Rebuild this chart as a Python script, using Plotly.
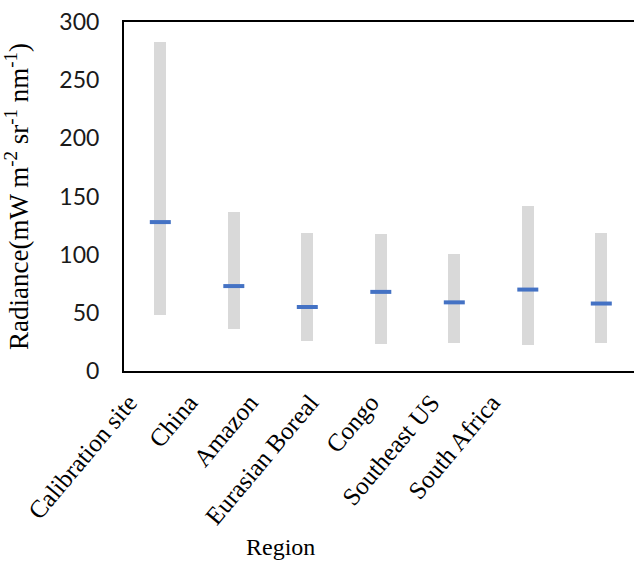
import plotly.graph_objects as go

# Radiance range (min/max) and central value per region
regions = ["Calibration site", "China", "Amazon", "Eurasian Boreal",
           "Congo", "Southeast US", "South Africa"]
rad_min = [48, 36, 26, 23, 24, 22, 24]
rad_max = [283, 137, 119, 118, 101, 142, 119]
rad_mid = [128, 73, 55, 68, 59, 70, 58]

serif = "Liberation Serif"

fig = go.Figure()

# Grey range bars drawn from min up to max
fig.add_trace(go.Bar(
    x=regions,
    y=[hi - lo for hi, lo in zip(rad_max, rad_min)],
    base=rad_min,
    width=0.165,
    marker=dict(color="#d9d9d9", line=dict(width=0)),
    showlegend=False,
    hoverinfo="skip",
))

# Blue tick at the central value
fig.add_trace(go.Scatter(
    x=regions,
    y=rad_mid,
    mode="markers",
    marker=dict(symbol="line-ew", size=15,
                line=dict(color="#4472c4", width=4)),
    showlegend=False,
    hoverinfo="skip",
))

# Carrier trace for the separate label axis
fig.add_trace(go.Scatter(
    x=regions,
    y=rad_mid,
    xaxis="x2",
    mode="markers",
    marker=dict(opacity=0),
    showlegend=False,
    hoverinfo="skip",
))

fig.update_layout(
    width=634,
    height=561,
    margin=dict(l=124, r=0, t=22, b=190),
    paper_bgcolor="white",
    plot_bgcolor="white",
    bargap=0,
    xaxis=dict(
        type="category",
        categoryarray=regions,
        range=[-0.494, 6.445],
        showticklabels=False,
        ticks="",
        showline=True,
        linecolor="black",
        linewidth=2,
        mirror=True,
        showgrid=False,
        zeroline=False,
    ),
    xaxis2=dict(
        type="category",
        categoryarray=regions,
        overlaying="x",
        anchor="y",
        side="bottom",
        range=[-0.08, 8.35],
        showline=False,
        showgrid=False,
        zeroline=False,
        ticks="",
        tickangle=-50,
        ticklabelstandoff=11,
        tickfont=dict(family=serif, size=25, color="black"),
    ),
    yaxis=dict(
        range=[0, 300],
        dtick=50,
        showline=True,
        linecolor="black",
        linewidth=2,
        showgrid=False,
        zeroline=False,
        ticks="",
        ticklabelstandoff=18,
        tickfont=dict(family="Lato", size=23, color="#1a1a1a"),
        title=dict(
            text="Radiance(mW m<sup>-2</sup> sr<sup>-1</sup> nm<sup>-1</sup>)",
            font=dict(family=serif, size=27, color="black"),
            standoff=25,
        ),
    ),
    annotations=[dict(
        text="Region",
        xref="paper", yref="paper",
        x=0.306, y=-0.504,
        xanchor="center", yanchor="middle",
        showarrow=False,
        font=dict(family=serif, size=24, color="black"),
    )],
)

fig.write_html("out.html")
